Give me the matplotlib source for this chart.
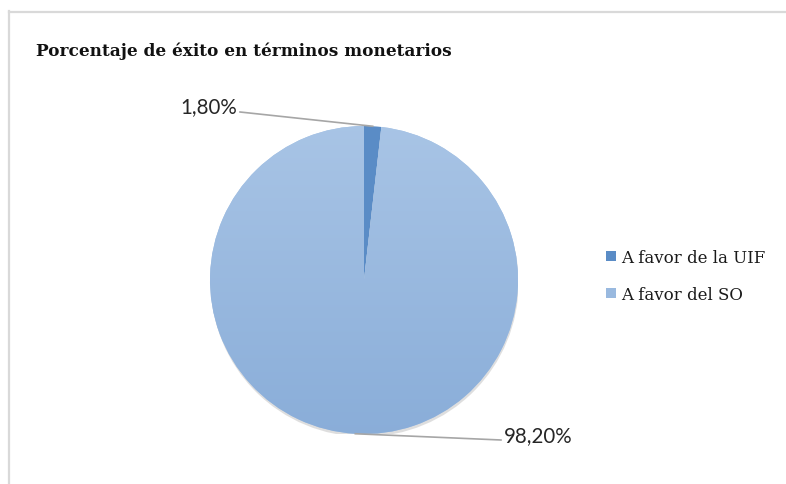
import matplotlib.pyplot as plt
import numpy as np
from matplotlib.lines import Line2D

W, H = 786, 485

title = "Porcentaje de éxito en términos monetarios"
categories = ["A favor de la UIF", "A favor del SO"]
shares = [1.80, 98.20]
share_labels = ["1,80%", "98,20%"]

dark_blue = "#5a8cc6"
light_top = np.array([0.66, 0.77, 0.90])
light_bottom = np.array([0.54, 0.68, 0.85])

fig = plt.figure(figsize=(W / 100, H / 100), dpi=100)
fig.patch.set_facecolor("white")


def fx(px):
    return px / W


def fy(py):
    return 1 - py / H


# chart frame (cut off on the right and at the bottom)
fig.add_artist(Line2D([fx(8.5), fx(8.5)], [fy(12), fy(H)], color="#d9d9d9", lw=1.6))
fig.add_artist(Line2D([fx(8.5), 1.0], [fy(12.5), fy(12.5)], color="#d9d9d9", lw=1.6))

fig.text(fx(36), fy(51), title, family="DejaVu Serif", weight="bold",
         fontsize=12.2, color="#111111", va="center", ha="left")

# pie area: centre (364, 281), radius 154 px
cx, cy, r = 364, 281, 154
ax = fig.add_axes([fx(cx - r), fy(cy + r), 2 * r / W, 2 * r / H])

# soft shadow under the pie
shadow = plt.Circle((0.004, -0.018), 1.0, color="#7f7f7f", alpha=0.25, lw=0)
ax.add_patch(shadow)

wedges, _ = ax.pie(shares, colors=[dark_blue, light_top], startangle=90,
                   counterclock=False, radius=1.0,
                   wedgeprops=dict(linewidth=0))

# vertical gradient on the big slice
grad = np.linspace(0, 1, 256)[:, None]
img = light_top[None, None, :] * (1 - grad[..., None]) + light_bottom[None, None, :] * grad[..., None]
img = np.repeat(img, 2, axis=1)
im = ax.imshow(img, extent=(-1, 1, -1, 1), origin="upper", zorder=wedges[1].get_zorder() + 0.1,
               aspect="auto")
im.set_clip_path(wedges[1])
ax.set_xlim(-1, 1)
ax.set_ylim(-1, 1)
ax.set_aspect("equal")
ax.axis("off")

# data labels with leader lines
label_pos = [(fx(237), fy(107), "right"), (fx(504), fy(436), "left")]
line_end = [(fx(240), fy(113)), (fx(501), fy(441))]
for w, txt, (tx, ty, ha), (lx, ly) in zip(wedges, share_labels, label_pos, line_end):
    mid = np.deg2rad((w.theta1 + w.theta2) / 2)
    px, py = np.cos(mid), np.sin(mid)
    pt = fig.transFigure.inverted().transform(ax.transData.transform((px, py)))
    fig.add_artist(Line2D([pt[0], lx], [pt[1], ly], color="#a6a6a6", lw=1.2))
    fig.text(tx, ty, txt, family="Lato", fontsize=14.8, color="#262626",
             ha=ha, va="center")

leg = fig.legend(wedges, categories, loc="center left",
                 bbox_to_anchor=(fx(591), fy(277)), frameon=False,
                 prop=dict(family="DejaVu Serif", size=12),
                 handlelength=0.6, handleheight=0.6, handletextpad=0.3,
                 labelspacing=1.2, labelcolor="#1a1a1a")
leg.legend_handles[1].set_facecolor(light_top * 0.5 + light_bottom * 0.5)

fig.savefig("out.png", dpi=100, facecolor="white")
